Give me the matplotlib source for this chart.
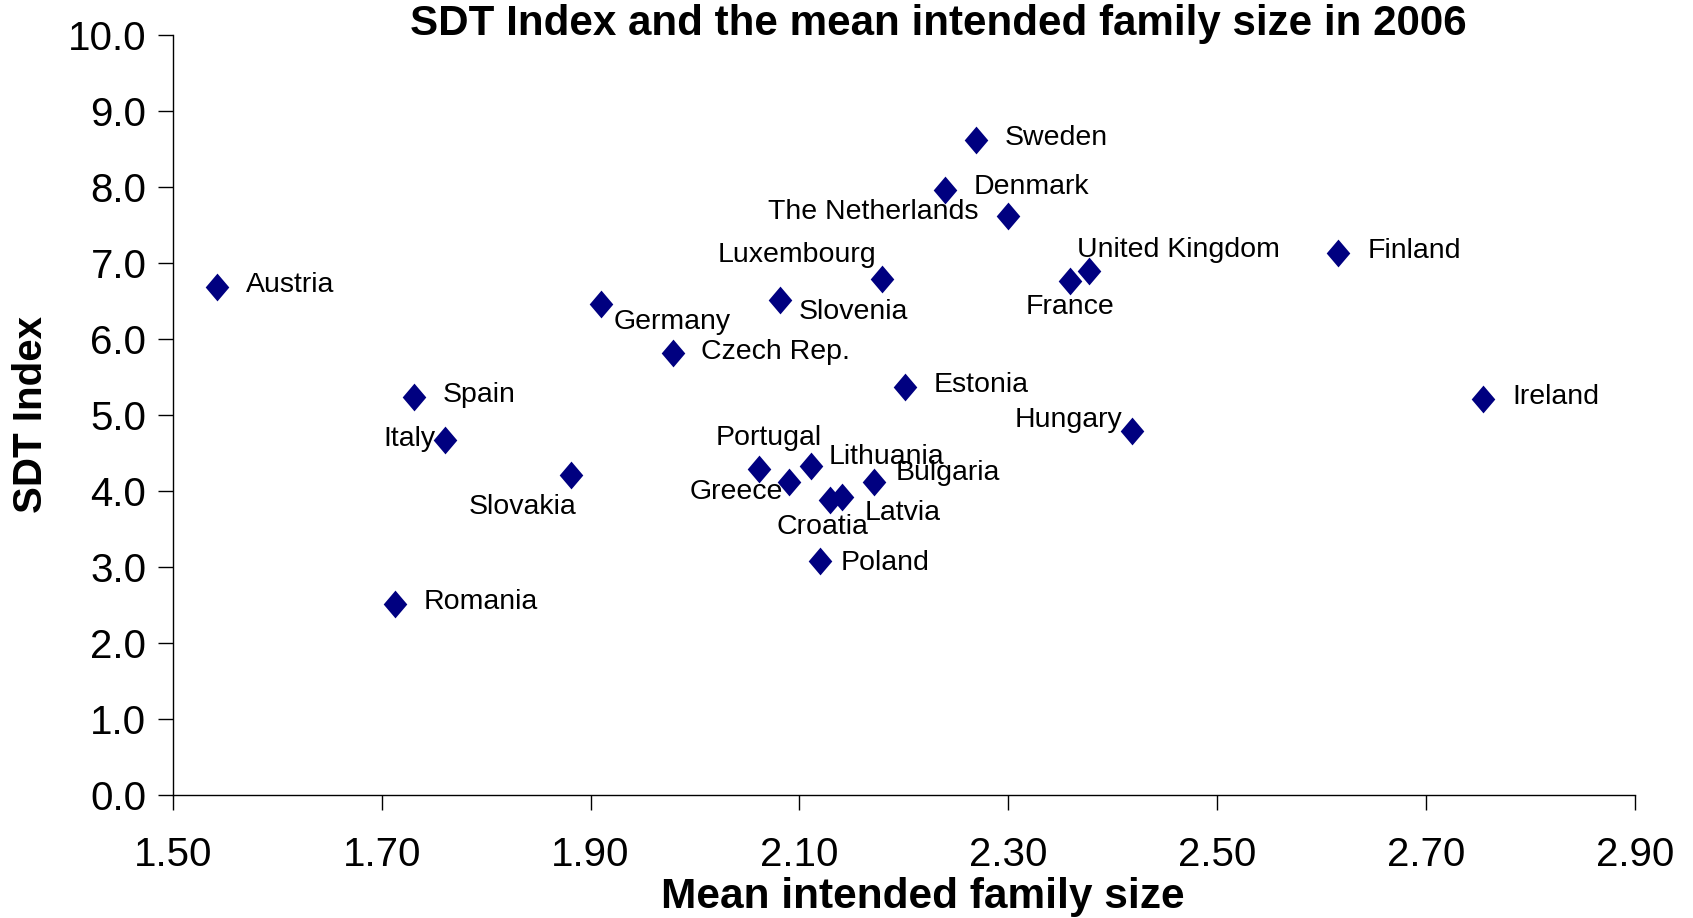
import matplotlib
matplotlib.use("Agg")
import matplotlib.pyplot as plt
from matplotlib import font_manager
import numpy as np

# data
countries = ["Austria", "Spain", "Italy", "Slovakia", "Romania", "Germany",
             "Czech Rep.", "Slovenia", "Luxembourg", "Sweden", "Denmark",
             "The Netherlands", "France", "United Kingdom", "Finland", "Ireland",
             "Estonia", "Hungary", "Portugal", "Greece", "Lithuania", "Croatia",
             "Latvia", "Bulgaria", "Poland"]
family_size = [1.542, 1.731, 1.761, 1.881, 1.713, 1.910,
               1.979, 2.081, 2.179, 2.269, 2.239,
               2.300, 2.359, 2.377, 2.616, 2.755,
               2.201, 2.419, 2.061, 2.090, 2.111, 2.129,
               2.141, 2.171, 2.120]
sdt_index = [6.68, 5.23, 4.66, 4.20, 2.51, 6.46,
             5.81, 6.51, 6.79, 8.61, 7.95,
             7.61, 6.76, 6.89, 7.13, 5.20,
             5.36, 4.79, 4.28, 4.12, 4.32, 3.88,
             3.91, 4.12, 3.08]

x_ticks = [1.50, 1.70, 1.90, 2.10, 2.30, 2.50, 2.70, 2.90]
y_ticks = [0, 1, 2, 3, 4, 5, 6, 7, 8, 9, 10]

# label placement: (dx px, dy px, horizontal alignment)
label_pos = {
    "Austria": (29, 2, "left"), "Spain": (29, 2, "left"), "Italy": (-10, 1, "right"),
    "Slovakia": (6, -32, "right"), "Romania": (28, 2, "left"), "Germany": (13, -18, "left"),
    "Czech Rep.": (28, 1, "left"), "Slovenia": (19, -12, "left"), "Luxembourg": (-6, 24, "right"),
    "Sweden": (29, 2, "left"), "Denmark": (29, 3, "left"), "The Netherlands": (-30, 4, "right"),
    "France": (0, -26, "center"), "United Kingdom": (-12, 21, "left"), "Finland": (29, 2, "left"),
    "Ireland": (29, 2, "left"), "Estonia": (29, 2, "left"), "Hungary": (-10, 11, "right"),
    "Portugal": (10, 31, "center"), "Greece": (-6, -10, "right"), "Lithuania": (18, 9, "left"),
    "Croatia": (-7, -27, "center"), "Latvia": (22, -16, "left"), "Bulgaria": (22, 9, "left"),
    "Poland": (20, -2, "left"),
}

names = {f.name for f in font_manager.fontManager.ttflist}
narrow = "Liberation Sans Narrow" if "Liberation Sans Narrow" in names else "Liberation Sans"

fig = plt.figure(figsize=(16.93, 9.18), dpi=100)
ax = fig.add_axes([0.1021, 0.1343, 0.8635, 0.8281])

diamond = [(0, 1), (0.85, 0), (0, -1), (-0.85, 0), (0, 1)]
ax.plot(family_size, sdt_index, linestyle="none", marker=diamond, markersize=20,
        color="#000080", markeredgewidth=0)

for name, x, y in zip(countries, family_size, sdt_index):
    dx, dy, ha = label_pos[name]
    ax.annotate(name, (x, y), xytext=(dx, dy), textcoords="offset pixels",
                ha=ha, va="center", fontsize=20.5, family=narrow, color="black")

ax.set_xlim(1.50, 2.90)
ax.set_ylim(0, 10)
ax.set_xticks(x_ticks)
ax.set_yticks(y_ticks)
ax.set_xticklabels(["%.2f" % v for v in x_ticks], family=narrow, fontsize=29)
ax.set_yticklabels(["%.1f" % v for v in y_ticks], family=narrow, fontsize=29)
ax.tick_params(axis="x", direction="out", length=11, width=1, pad=19)
ax.tick_params(axis="y", direction="out", length=11, width=1, pad=8)

for s in ["top", "right"]:
    ax.spines[s].set_visible(False)
for s in ["left", "bottom"]:
    ax.spines[s].set_linewidth(1)

ax.set_xlabel("Mean intended family size", fontsize=30.5, fontweight="bold",
              family=narrow)
ax.xaxis.set_label_coords(0.513, -0.108)
ax.set_ylabel("SDT Index", fontsize=29, fontweight="bold", family=narrow)
ax.yaxis.set_label_coords(-0.084, 0.5)
fig.text(0.5545, 0.974, "SDT Index and the mean intended family size in 2006",
         ha="center", va="center", fontsize=30.3, fontweight="bold", family="Liberation Sans")

fig.savefig("out.png", dpi=100)
